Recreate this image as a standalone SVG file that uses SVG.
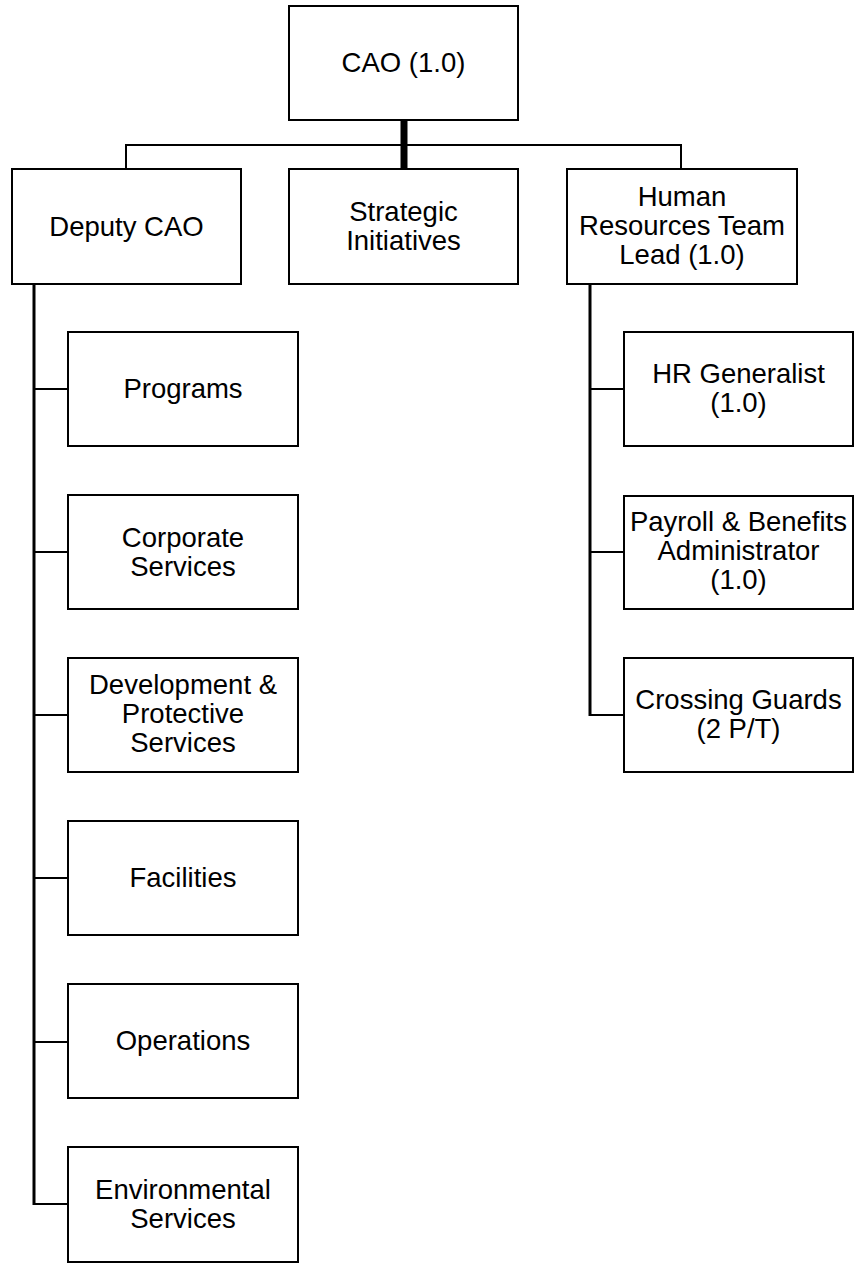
<svg xmlns="http://www.w3.org/2000/svg" width="858" height="1268" viewBox="0 0 858 1268">
<style>
.box{fill:#fff;stroke:#000;stroke-width:2}
.ln{fill:none;stroke:#000;stroke-width:2}
.spine{fill:none;stroke:#000;stroke-width:3}
.thick{fill:none;stroke:#000;stroke-width:7}
text{font-family:"Liberation Sans",Arial,sans-serif;font-size:27.5px;fill:#000;text-anchor:middle}
</style>
<rect width="858" height="1268" fill="#fff"/>
<g id="connectors">
<line class="thick" x1="404" y1="120" x2="404" y2="169"/>
<polyline class="ln" points="126,169 126,145 681,145 681,169"/>
<line class="spine" x1="34" y1="284" x2="34" y2="1205"/>
<line class="ln" x1="33" y1="389" x2="68" y2="389"/>
<line class="ln" x1="33" y1="552" x2="68" y2="552"/>
<line class="ln" x1="33" y1="715" x2="68" y2="715"/>
<line class="ln" x1="33" y1="878" x2="68" y2="878"/>
<line class="ln" x1="33" y1="1042" x2="68" y2="1042"/>
<line class="ln" x1="33" y1="1204" x2="68" y2="1204"/>
<line class="spine" x1="590" y1="284" x2="590" y2="716"/>
<line class="ln" x1="589" y1="389" x2="624" y2="389"/>
<line class="ln" x1="589" y1="552" x2="624" y2="552"/>
<line class="ln" x1="589" y1="715" x2="624" y2="715"/>
</g>
<g id="cao"><rect class="box" x="289" y="6" width="229" height="114"/><text x="403.5" y="71.5">CAO (1.0)</text></g>
<g id="deputy"><rect class="box" x="12" y="169" width="229" height="115"/><text x="126.5" y="235.5">Deputy CAO</text></g>
<g id="strategic"><rect class="box" x="289" y="169" width="229" height="115"/><text x="403.5" y="221">Strategic</text><text x="403.5" y="250">Initiatives</text></g>
<g id="hrlead"><rect class="box" x="567" y="169" width="230" height="115"/><text x="682" y="206">Human</text><text x="682" y="235">Resources Team</text><text x="682" y="264">Lead (1.0)</text></g>
<g id="programs"><rect class="box" x="68" y="332" width="230" height="114"/><text x="183" y="397.5">Programs</text></g>
<g id="corporate"><rect class="box" x="68" y="495" width="230" height="114"/><text x="183" y="546.5">Corporate</text><text x="183" y="575.5">Services</text></g>
<g id="development"><rect class="box" x="68" y="658" width="230" height="114"/><text x="183" y="694">Development &amp;</text><text x="183" y="723">Protective</text><text x="183" y="752">Services</text></g>
<g id="facilities"><rect class="box" x="68" y="821" width="230" height="114"/><text x="183" y="886.5">Facilities</text></g>
<g id="operations"><rect class="box" x="68" y="984" width="230" height="114"/><text x="183" y="1049.5">Operations</text></g>
<g id="environmental"><rect class="box" x="68" y="1147" width="230" height="115"/><text x="183" y="1198.5">Environmental</text><text x="183" y="1227.5">Services</text></g>
<g id="hrgeneralist"><rect class="box" x="624" y="332" width="229" height="114"/><text x="738.5" y="383">HR Generalist</text><text x="738.5" y="412">(1.0)</text></g>
<g id="payroll"><rect class="box" x="624" y="496" width="229" height="113"/><text x="738.5" y="531">Payroll &amp; Benefits</text><text x="738.5" y="560">Administrator</text><text x="738.5" y="589">(1.0)</text></g>
<g id="crossing"><rect class="box" x="624" y="658" width="229" height="114"/><text x="738.5" y="709">Crossing Guards</text><text x="738.5" y="738">(2 P/T)</text></g>
</svg>
